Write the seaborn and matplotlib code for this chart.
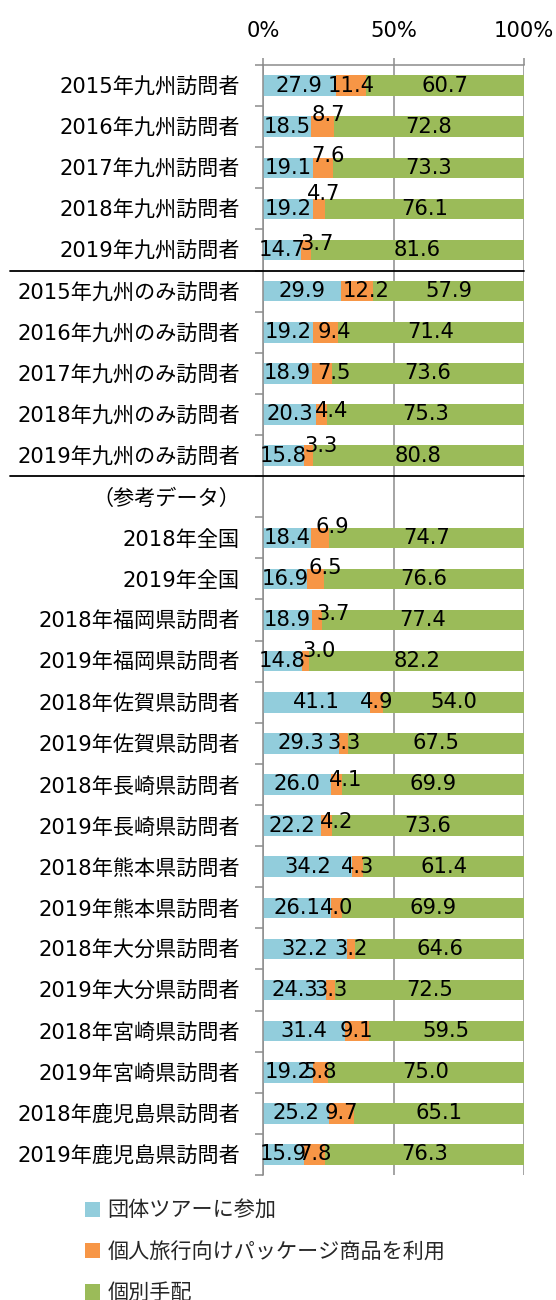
import numpy as np
import pandas as pd
import matplotlib
matplotlib.use("Agg")
import matplotlib.pyplot as plt
import seaborn as sns
from matplotlib.patches import Patch
from matplotlib.lines import Line2D
from matplotlib.transforms import blended_transform_factory

# ---- data -------------------------------------------------------------
categories = [
    "2015年九州訪問者", "2016年九州訪問者", "2017年九州訪問者", "2018年九州訪問者", "2019年九州訪問者",
    "2015年九州のみ訪問者", "2016年九州のみ訪問者", "2017年九州のみ訪問者", "2018年九州のみ訪問者", "2019年九州のみ訪問者",
    "（参考データ）",
    "2018年全国", "2019年全国",
    "2018年福岡県訪問者", "2019年福岡県訪問者",
    "2018年佐賀県訪問者", "2019年佐賀県訪問者",
    "2018年長崎県訪問者", "2019年長崎県訪問者",
    "2018年熊本県訪問者", "2019年熊本県訪問者",
    "2018年大分県訪問者", "2019年大分県訪問者",
    "2018年宮崎県訪問者", "2019年宮崎県訪問者",
    "2018年鹿児島県訪問者", "2019年鹿児島県訪問者",
]
nan = np.nan
group_tour = [27.9, 18.5, 19.1, 19.2, 14.7,
              29.9, 19.2, 18.9, 20.3, 15.8,
              nan,
              18.4, 16.9, 18.9, 14.8, 41.1, 29.3, 26.0, 22.2,
              34.2, 26.1, 32.2, 24.3, 31.4, 19.2, 25.2, 15.9]
package_tour = [11.4, 8.7, 7.6, 4.7, 3.7,
                12.2, 9.4, 7.5, 4.4, 3.3,
                nan,
                6.9, 6.5, 3.7, 3.0, 4.9, 3.3, 4.1, 4.2,
                4.3, 4.0, 3.2, 3.3, 9.1, 5.8, 9.7, 7.8]
individual = [60.7, 72.8, 73.3, 76.1, 81.6,
              57.9, 71.4, 73.6, 75.3, 80.8,
              nan,
              74.7, 76.6, 77.4, 82.2, 54.0, 67.5, 69.9, 73.6,
              61.4, 69.9, 64.6, 72.5, 59.5, 75.0, 65.1, 76.3]
series_names = ["団体ツアーに参加", "個人旅行向けパッケージ商品を利用", "個別手配"]
tick_values = [0, 50, 100]
tick_labels = ["0%", "50%", "100%"]

# ---- style ------------------------------------------------------------
colors = ["#92CDDC", "#F79646", "#9BBB59"]
grey = "#8C8C8C"
fs = 15.2

sns.set_theme(style="white")
plt.rcParams["font.family"] = ["DejaVu Sans", "Noto Sans CJK JP"]
plt.rcParams["axes.unicode_minus"] = False

df = pd.DataFrame({
    "cat": categories,
    "group": group_tour,
    "package": package_tour,
    "indiv": individual,
})
df["cum1"] = df["group"]
df["cum2"] = df["group"] + df["package"]
df["cum3"] = df["group"] + df["package"] + df["indiv"]

fig = plt.figure(figsize=(5.56, 13.0), dpi=100)
ax = fig.add_axes([263 / 556, 1 - 1175 / 1300, 261 / 556, 1110 / 1300])

# stacked bars: draw the running totals from the longest to the shortest
for col, c in zip(["cum3", "cum2", "cum1"], colors[::-1]):
    sns.barplot(data=df, x=col, y="cat", order=categories, orient="h",
                color=c, width=0.5, errorbar=None, ax=ax,
                linewidth=0, saturation=1)

ax.set_xlim(0, 100)
ax.set_ylim(len(categories) - 0.5, -0.5)
ax.set_xlabel("")
ax.set_ylabel("")

# value axis on top
ax.xaxis.tick_top()
ax.set_xticks(tick_values)
ax.set_xticklabels(tick_labels, fontsize=fs)
ax.tick_params(axis="x", which="major", length=5, width=1.1, color=grey,
               pad=12, labelcolor="black")
ax.set_axisbelow(True)
ax.grid(axis="x", color=grey, linewidth=1.1)
ax.grid(axis="y", visible=False)

# category axis: labels at centres, tick marks at boundaries
ax.set_yticks(range(len(categories)))
ax.set_yticklabels(categories, fontsize=fs)
ax.set_yticks(np.arange(-0.5, len(categories), 1.0), minor=True)
ax.tick_params(axis="y", which="major", length=0, pad=16.5, labelcolor="black")
ax.tick_params(axis="y", which="minor", left=True, length=5.8, width=1.1, color=grey)

for side in ["right", "bottom"]:
    ax.spines[side].set_visible(False)
for side in ["left", "top"]:
    ax.spines[side].set_visible(True)
    ax.spines[side].set_color(grey)
    ax.spines[side].set_linewidth(1.1)

# value labels (a few small segments have their labels nudged, in pixels)
package_label_shift = {1: (6, 12), 2: (5, 12), 3: (4, 15), 4: (11, 6),
                       5: (9, 0), 6: (9, 0), 7: (12, 0), 8: (10, 3), 9: (13, 10),
                       11: (12, 11), 12: (10, 11), 13: (16, 6), 14: (14, 10),
                       17: (9, 4), 18: (10, 4)}
for i, row in df.iterrows():
    if np.isnan(row["group"]):
        continue
    segs = [(row["group"], row["group"] / 2),
            (row["package"], row["group"] + row["package"] / 2),
            (row["indiv"], row["cum2"] + row["indiv"] / 2)]
    for k, (v, xc) in enumerate(segs):
        shift = package_label_shift.get(i, (0, 0)) if k == 1 else (0, 0)
        ax.annotate(f"{v:.1f}", xy=(xc, i), xytext=shift, textcoords="offset pixels",
                    ha="center", va="center", fontsize=fs, color="black",
                    annotation_clip=False, zorder=5)

# horizontal separators between the groups of rows
trans = blended_transform_factory(fig.transFigure, ax.transData)
for yb in [4.5, 9.5]:
    ax.add_line(Line2D([10 / 556, 524 / 556], [yb, yb], transform=trans,
                       color="black", linewidth=1.3, clip_on=False, zorder=6))

# legend
handles = [Patch(facecolor=c, edgecolor="none", label=n) for c, n in zip(colors, series_names)]
fig.legend(handles=handles, loc="upper left", bbox_to_anchor=(85 / 556, 1 - 1201 / 1300),
           frameon=False, fontsize=fs, handlelength=0.72, handleheight=0.72,
           handletextpad=0.33, labelspacing=1.0, borderpad=0, borderaxespad=0)

fig.savefig("out.png", dpi=100)
